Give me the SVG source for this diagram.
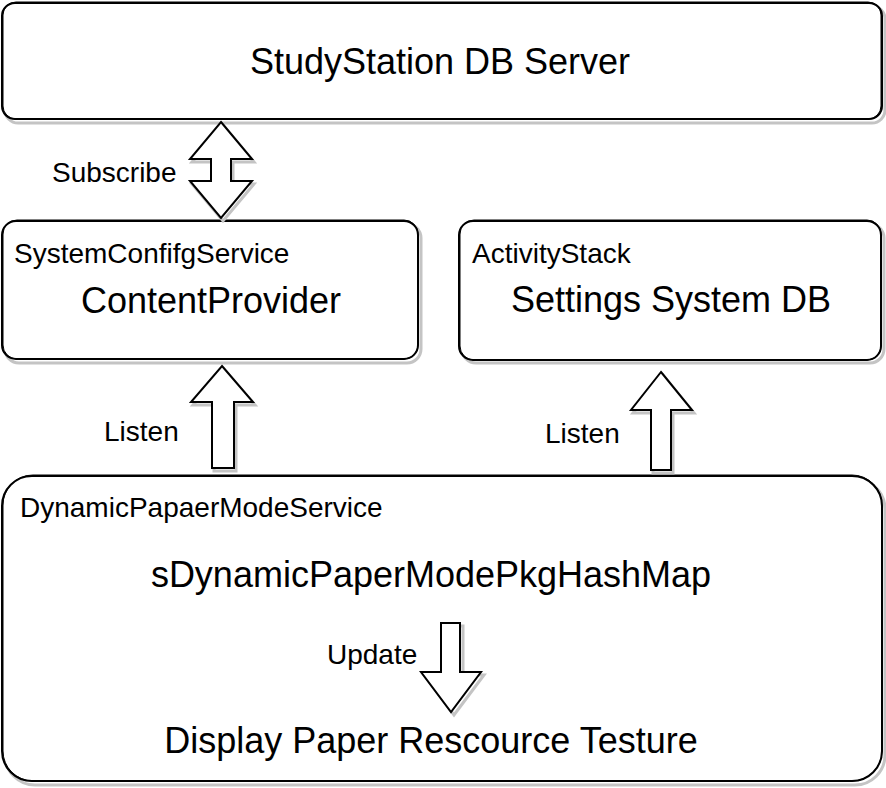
<svg xmlns="http://www.w3.org/2000/svg" width="886" height="788" viewBox="0 0 886 788">
<style>
.bg{fill:#ffffff}
.sh{fill:none;stroke:#c4c4c4;stroke-width:3}
.bx{fill:#ffffff;stroke:#000000;stroke-width:2}
.bx2{fill:none;stroke:#000000;stroke-width:1}
.ar{fill:#ffffff;stroke:#000000;stroke-width:2;stroke-linejoin:miter}
.t{font-family:"Liberation Sans",Arial,Helvetica,sans-serif;fill:#000000}
.big{font-size:36px}
.sm{font-size:28px}
</style>
<rect class="bg" x="0" y="0" width="886" height="788"/>

<g id="studystation-db-server">
  <rect class="sh" x="5" y="6" width="880" height="117" rx="13"/>
  <rect class="bx" x="2" y="3" width="880" height="116" rx="13"/>
  <rect class="bx2" x="3" y="2" width="878" height="117" rx="13"/>
  <text class="t big" x="440" y="74" text-anchor="middle">StudyStation DB Server</text>
</g>

<g id="content-provider">
  <rect class="sh" x="5" y="224" width="416" height="139" rx="14"/>
  <rect class="bx" x="2" y="221" width="416" height="138" rx="14"/>
  <rect class="bx2" x="3" y="220" width="415" height="139" rx="14"/>
  <text class="t sm" x="14" y="263">SystemConfifgService</text>
  <text class="t big" x="211" y="313" text-anchor="middle">ContentProvider</text>
</g>

<g id="settings-system-db">
  <rect class="sh" x="462" y="224" width="422" height="139" rx="14"/>
  <rect class="bx" x="459" y="221" width="422" height="139" rx="14"/>
  <rect class="bx2" x="460" y="220" width="421" height="140" rx="14"/>
  <text class="t sm" x="472" y="263">ActivityStack</text>
  <text class="t big" x="671" y="312" text-anchor="middle">Settings System DB</text>
</g>

<g id="dynamic-paper-mode-service">
  <rect class="sh" x="5" y="479" width="880" height="306" rx="30"/>
  <rect class="bx" x="2" y="476" width="880" height="305" rx="30"/>
  <rect class="bx2" x="3" y="475" width="879" height="306" rx="30"/>
  <text class="t sm" x="20" y="517">DynamicPapaerModeService</text>
  <text class="t big" x="431" y="587" text-anchor="middle">sDynamicPaperModePkgHashMap</text>
  <text class="t big" x="431" y="753" text-anchor="middle">Display Paper Rescource Testure</text>
</g>

<g id="connectors">
  <g id="subscribe">
    <polygon class="sh" points="223,125 254,162 233,162 233,184 254,184 223,221 192,184 213,184 213,162 192,162"/>
    <polygon class="ar" points="221,122 252,159 231,159 231,181 252,181 221,218 190,181 211,181 211,159 190,159"/>
    <text class="t sm" x="52" y="182">Subscribe</text>
  </g>
  <g id="listen-left">
    <polygon class="sh" points="224,369 255,405 236,405 236,471 214,471 214,405 193,405"/>
    <polygon class="ar" points="222,366 253,402 234,402 234,468 212,468 212,402 191,402"/>
    <text class="t sm" x="104" y="441">Listen</text>
  </g>
  <g id="listen-right">
    <polygon class="sh" points="663,375 694,413 673,413 673,473 653,473 653,413 633,413"/>
    <polygon class="ar" points="661,372 692,410 671,410 671,470 651,470 651,410 631,410"/>
    <text class="t sm" x="545" y="443">Listen</text>
  </g>
  <g id="update">
    <polygon class="sh" points="444,626 463,626 463,675 484,675 454,715 424,675 444,675"/>
    <polygon class="ar" points="441,623 460,623 460,672 481,672 451,712 421,672 441,672"/>
    <text class="t sm" x="327" y="664">Update</text>
  </g>
</g>
</svg>
